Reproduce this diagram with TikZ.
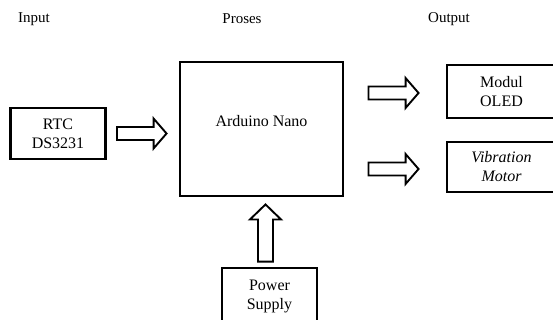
\documentclass[tikz,border=0pt]{standalone}
\usepackage{fontspec}
\setmainfont{Liberation Serif}
\usetikzlibrary{calc}
\tikzset{
  box/.style={draw, line width=2.9pt, inner sep=0pt, align=center, font=\fontsize{16}{19}\selectfont},
  lbl/.style={font=\fontsize{15}{19}\selectfont, inner sep=0pt, align=center},
  harrow/.style={draw, line width=1.9pt, line join=miter, to path={
    let \p1=(\tikztostart), \p2=(\tikztotarget) in
    (\x1,{\y1+6.5pt}) -- ({\x2-13pt},{\y1+6.5pt}) -- ({\x2-13pt},{\y1+15pt}) -- (\x2,\y1)
    -- ({\x2-13pt},{\y1-15pt}) -- ({\x2-13pt},{\y1-6.5pt}) -- (\x1,{\y1-6.5pt}) -- cycle}},
  varrow/.style={draw, line width=1.9pt, line join=miter, to path={
    let \p1=(\tikztostart), \p2=(\tikztotarget) in
    ({\x1-7.5pt},\y1) -- ({\x1-7.5pt},{\y2-15pt}) -- ({\x1-15.5pt},{\y2-15pt}) -- (\x1,\y2)
    -- ({\x1+15.5pt},{\y2-15pt}) -- ({\x1+7.5pt},{\y2-15pt}) -- ({\x1+7.5pt},\y1) -- cycle}}
}
\begin{document}
\begin{tikzpicture}[x=1pt,y=-1pt]
\useasboundingbox (0,0) rectangle (553,320);
% headings
\node[lbl] (hin) at (34,19) {Input};
\node[lbl] (hpr) at (242,19) {Proses};
\node[lbl] (hout) at (449,19) {Output};
% boxes
\node[box, minimum width=95pt, minimum height=51pt] (rtc) at (58,133.5) {RTC\\DS3231};
\node[box, minimum width=163pt, minimum height=134pt] (ard) at (261.5,129) {};
\node[box, draw=none] (ardtxt) at (261.5,121) {Arduino Nano};
\node[box, minimum width=109pt, minimum height=53pt] (oled) at (501.5,91.5) {Modul\\OLED};
\node[box, minimum width=109pt, minimum height=50pt, font=\fontsize{16}{19}\selectfont\itshape] (vib) at (501.5,167) {Vibration\\Motor};
\node[box, minimum width=95pt, minimum height=56pt] (pwr) at (269.5,296) {Power\\Supply};
% arrows
\coordinate (pwrtop) at ($(pwr.north)+(-4,-5)$);
\coordinate (ardbot) at ($(ard.south)+(4,7)$);
\draw[harrow] ([xshift=10pt]rtc.east) to ([xshift=-12pt]ard.west);
\draw[harrow] ($(ard.east |- oled.west)+(24,1.5)$) to ($(oled.west)+(-27,1.5)$);
\draw[harrow] ($(ard.east |- vib.west)+(24,2)$) to ($(vib.west)+(-27,2)$);
\draw[varrow] (pwrtop) to (ardbot);
\end{tikzpicture}
\end{document}
